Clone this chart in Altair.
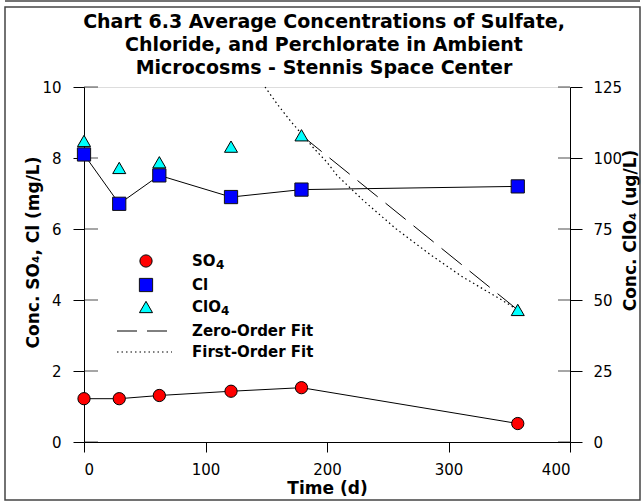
import altair as alt
import pandas as pd

# Sampling days and averaged concentrations
time_d = [0, 29, 62, 121, 179, 357]
so4_mg_l = [1.22, 1.22, 1.31, 1.43, 1.53, 0.52]
cl_mg_l = [8.10, 6.71, 7.51, 6.90, 7.11, 7.20]
clo4_ug_l = [106, 96.5, 98.5, 104, 108, 46.5]

# Perchlorate decay fits
zero_fit_t = [179, 357]
zero_fit_ug_l = [108, 46.5]
first_fit_t = [149, 159, 170, 178, 189, 200, 208, 230, 257, 285, 312, 340, 357]
first_fit_ug_l = [125, 119, 113, 109, 103.5, 98.5, 94, 85, 75, 66, 58, 51, 46.5]

# Axis ticks
x_ticks = [0, 100, 200, 300, 400]
left_ticks = [0, 2, 4, 6, 8, 10]
right_ticks = [0, 25, 50, 75, 100, 125]

# Legend entries: main text and an optional subscript
legend_main = ["SO", "Cl", "ClO", "Zero-Order Fit", "First-Order Fit"]
legend_sub = ["4", "", "4", "", ""]

title_lines = [
    "Chart 6.3 Average Concentrations of Sulfate,",
    "Chloride, and Perchlorate in Ambient",
    "Microcosms - Stennis Space Center",
]

W, H = 486, 355
FONT = "DejaVu Sans"

meas = pd.DataFrame({"t": time_d, "so4": so4_mg_l, "cl": cl_mg_l, "clo4": clo4_ug_l})
zero_df = pd.DataFrame({"t": zero_fit_t, "v": zero_fit_ug_l})
first_df = pd.DataFrame({"t": first_fit_t, "v": first_fit_ug_l})
lt_df = pd.DataFrame({"t": [0] * len(left_ticks), "v": left_ticks})
rt_df = pd.DataFrame({"t": [400] * len(right_ticks), "v": right_ticks})

x_axis = alt.Axis(
    values=x_ticks, title="Time (d)", grid=False, tickSize=10, labelPadding=10,
    labelFont=FONT, labelFontSize=15, labelColor="black",
    titleFont=FONT, titleFontSize=17, titleFontWeight="bold", titleColor="black",
    titleX=W / 2, titleY=46, titleAlign="center", titleBaseline="middle",
    domainColor="black", tickColor="black",
)
X = alt.X("t:Q", scale=alt.Scale(domain=[0, 400], nice=False), axis=x_axis)

left_scale = alt.Scale(domain=[0, 10], nice=False)
right_scale = alt.Scale(domain=[0, 125], nice=False)

left_axis = alt.Axis(
    orient="left", values=left_ticks, grid=False, tickSize=11, labelPadding=12,
    labelFont=FONT, labelFontSize=15, labelColor="black",
    title="Conc. SO₄, Cl (mg/L)", titleFont=FONT, titleFontSize=17,
    titleFontWeight="bold", titleColor="black", titleAngle=270,
    titleX=-51, titleY=165, titleAlign="center", titleBaseline="middle",
    domainColor="black", tickColor="black",
)
right_axis = alt.Axis(
    orient="right", values=right_ticks, grid=False, tickSize=12, labelPadding=11,
    labelFont=FONT, labelFontSize=15, labelColor="black",
    title="Conc. ClO₄ (ug/L)", titleFont=FONT, titleFontSize=17,
    titleFontWeight="bold", titleColor="black", titleAngle=270,
    titleX=60, titleY=143, titleAlign="center", titleBaseline="middle",
    domainColor="black", tickColor="black",
)

so4_line = alt.Chart(meas).mark_line(color="black", strokeWidth=1).encode(
    x=X, y=alt.Y("so4:Q", scale=left_scale, axis=left_axis)
)
so4_pts = alt.Chart(meas).mark_point(
    shape="circle", filled=True, fill="#ff0000", stroke="black", strokeWidth=1,
    size=150, opacity=1,
).encode(x=X, y=alt.Y("so4:Q", scale=left_scale, axis=None))

cl_line = alt.Chart(meas).mark_line(color="black", strokeWidth=1).encode(
    x=X, y=alt.Y("cl:Q", scale=left_scale, axis=None)
)
cl_pts = alt.Chart(meas).mark_point(
    shape="square", filled=True, fill="#0000ff", stroke="#111111", strokeWidth=1,
    size=175, opacity=1,
).encode(x=X, y=alt.Y("cl:Q", scale=left_scale, axis=None))

left_inner_ticks = alt.Chart(lt_df).mark_tick(
    orient="horizontal", color="black", size=14, thickness=1, xOffset=7
).encode(x=X, y=alt.Y("v:Q", scale=left_scale, axis=None))

zero_line = alt.Chart(zero_df).mark_line(
    color="black", strokeWidth=1, strokeDash=[26, 10]
).encode(x=X, y=alt.Y("v:Q", scale=right_scale, axis=None))
first_line = alt.Chart(first_df).mark_line(
    color="black", strokeWidth=1.2, strokeDash=[1.5, 3]
).encode(x=X, y=alt.Y("v:Q", scale=right_scale, axis=None))

clo4_pts = alt.Chart(meas).mark_point(
    shape="triangle-up", filled=True, fill="#00ffff", stroke="black", strokeWidth=1,
    size=170, opacity=1,
).encode(x=X, y=alt.Y("clo4:Q", scale=right_scale, axis=right_axis))

right_inner_ticks = alt.Chart(rt_df).mark_tick(
    orient="horizontal", color="black", size=12, thickness=1, xOffset=-6
).encode(x=X, y=alt.Y("v:Q", scale=right_scale, axis=None))

# In-plot legend
one = alt.Data(values=[{"k": 0}])
leg_rows = [174, 198, 220, 244, 265]
leg_marker_x, leg_text_x = 62, 108
sub_x = [leg_text_x + 24, None, leg_text_x + 29, None, None]
legend_layers = [
    alt.Chart(one).mark_point(shape="circle", filled=True, fill="#ff0000", stroke="black",
                              strokeWidth=1, size=150, opacity=1)
    .encode(x=alt.value(leg_marker_x), y=alt.value(leg_rows[0])),
    alt.Chart(one).mark_point(shape="square", filled=True, fill="#0000ff", stroke="#111111",
                              strokeWidth=1, size=175, opacity=1)
    .encode(x=alt.value(leg_marker_x), y=alt.value(leg_rows[1])),
    alt.Chart(one).mark_point(shape="triangle-up", filled=True, fill="#00ffff", stroke="black",
                              strokeWidth=1, size=170, opacity=1)
    .encode(x=alt.value(leg_marker_x), y=alt.value(leg_rows[2])),
    alt.Chart(one).mark_rule(color="black", strokeWidth=1, strokeDash=[20, 10])
    .encode(x=alt.value(33), x2=alt.value(86), y=alt.value(leg_rows[3])),
    alt.Chart(one).mark_rule(color="black", strokeWidth=1.2, strokeDash=[1.5, 3])
    .encode(x=alt.value(33), x2=alt.value(88), y=alt.value(leg_rows[4])),
]
for main, sub, sx, ry in zip(legend_main, legend_sub, sub_x, leg_rows):
    legend_layers.append(
        alt.Chart(one).mark_text(
            align="left", baseline="middle", font=FONT, fontSize=15,
            fontWeight="bold", color="black",
        ).encode(x=alt.value(leg_text_x), y=alt.value(ry), text=alt.value(main))
    )
    if sub:
        legend_layers.append(
            alt.Chart(one).mark_text(
                align="left", baseline="middle", font=FONT, fontSize=12,
                fontWeight="bold", color="black",
            ).encode(x=alt.value(sx), y=alt.value(ry + 4), text=alt.value(sub))
        )

# Three-line heading above the plot
title_layers = [
    alt.Chart(one).mark_text(
        align="center", baseline="alphabetic", font=FONT, fontSize=19,
        fontWeight="bold", color="black",
    ).encode(x=alt.value(240), y=alt.value(ty), text=alt.value(line))
    for line, ty in zip(title_lines, [-59, -36, -13])
]

# Page frame around the figure
frame = alt.Chart(one).mark_rect(
    fill="transparent", stroke="#444444", strokeWidth=1.5
).encode(x=alt.value(-79), x2=alt.value(556), y=alt.value(-80), y2=alt.value(413))
top_rule = alt.Chart(one).mark_rule(color="#444444", strokeWidth=1.5).encode(
    x=alt.value(-79), x2=alt.value(556), y=alt.value(-86)
)

chart = alt.layer(
    so4_line, cl_line, left_inner_ticks, zero_line, first_line,
    so4_pts, cl_pts, clo4_pts, right_inner_ticks,
    *legend_layers, *title_layers, frame, top_rule,
).resolve_scale(y="independent").properties(
    width=W, height=H,
    autosize=alt.AutoSizeParams(type="none"),
    padding={"left": 84, "top": 87, "right": 72, "bottom": 60},
).configure_view(stroke="black", strokeWidth=1).configure(background="white")

chart.save("out.html", embed_options={"renderer": "svg", "actions": False})
